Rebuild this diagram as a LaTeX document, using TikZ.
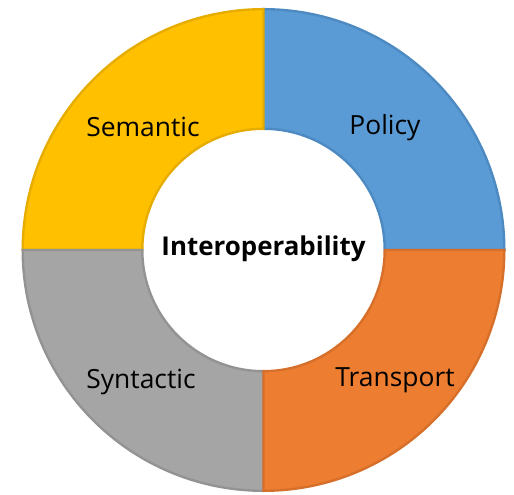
\documentclass[tikz,border=0pt]{standalone}
\usepackage{fontspec}
\setmainfont{Open Sans}
\definecolor{cblue}{HTML}{5B9BD5}
\definecolor{cbluel}{HTML}{4E8AC2}
\definecolor{corange}{HTML}{ED7D31}
\definecolor{corangel}{HTML}{D66F29}
\definecolor{cgray}{HTML}{A5A5A5}
\definecolor{cgrayl}{HTML}{939393}
\definecolor{cyellow}{HTML}{FFC000}
\definecolor{cyellowl}{HTML}{E6AD00}
\begin{document}
\begin{tikzpicture}[x=1bp,y=1bp,
  seg/.style={line width=2.4bp, line join=miter},
  lab/.style={font=\fontsize{26.5}{30}\selectfont, text=black, inner sep=0pt},
  ctr/.style={font=\bfseries\fontsize{26}{30}\selectfont, text=black, inner sep=0pt}]
\useasboundingbox (0,0) rectangle (514,495);
\coordinate (c) at (263.5,245);
\def\R{242}
\def\r{120}
% Policy (blue) 0..90
\draw[seg, fill=cblue, draw=cbluel, shift={(c)}] (0:\R-1.2) arc[start angle=0,end angle=90,radius=\R-1.2] -- (90:\r+1.2) arc[start angle=90,end angle=0,radius=\r+1.2] -- cycle;
% Semantic (yellow) 90..180
\draw[seg, fill=cyellow, draw=cyellowl, shift={(c)}] (90:\R-1.2) arc[start angle=90,end angle=180,radius=\R-1.2] -- (180:\r+1.2) arc[start angle=180,end angle=90,radius=\r+1.2] -- cycle;
% Syntactic (gray) 180..270
\draw[seg, fill=cgray, draw=cgrayl, shift={(c)}] (180:\R-1.2) arc[start angle=180,end angle=270,radius=\R-1.2] -- (270:\r+1.2) arc[start angle=270,end angle=180,radius=\r+1.2] -- cycle;
% Transport (orange) 270..360
\draw[seg, fill=corange, draw=corangel, shift={(c)}] (270:\R-1.2) arc[start angle=270,end angle=360,radius=\R-1.2] -- (360:\r+1.2) arc[start angle=360,end angle=270,radius=\r+1.2] -- cycle;
\node[lab] (sem) at (143,368) {Semantic};
\node[lab] (pol) at (385,367) {Policy};
\node[lab] (syn) at (141,113) {Syntactic};
\node[lab] (tra) at (395,115) {Transport};
\node[ctr] (int) at (263.5,246.5) {Interoperability};
\end{tikzpicture}
\end{document}
